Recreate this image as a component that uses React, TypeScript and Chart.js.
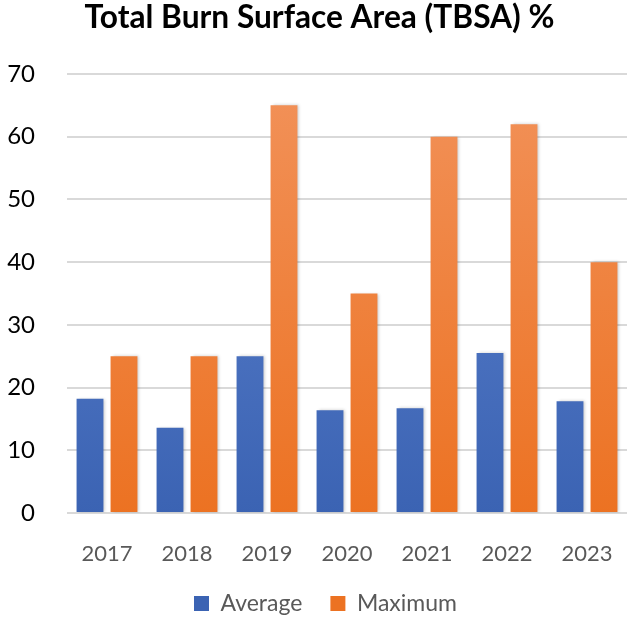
import React, { useEffect, useRef } from "react";
import { Chart, registerables } from "chart.js";

Chart.register(...registerables);

const categories = ["2017", "2018", "2019", "2020", "2021", "2022", "2023"];
const averageValues = [18.2, 13.6, 25, 16.4, 16.7, 25.5, 17.8];
const maximumValues = [25, 25, 65, 35, 60, 62, 40];
const yTicks = [0, 10, 20, 30, 40, 50, 60, 70];
const titleText = "Total Burn Surface Area (TBSA) %";

const FONT = "Lato, 'Open Sans', sans-serif";
const TITLE_WIDTH = 470;
const LEGEND_SHIFT = 10;

function gradient(ctx: any, top: string, bottom: string) {
  const chart = ctx.chart;
  const area = chart.chartArea;
  if (!area) return bottom;
  const g = chart.ctx.createLinearGradient(0, area.top, 0, area.bottom);
  g.addColorStop(0, top);
  g.addColorStop(1, bottom);
  return g;
}

const titlePlugin = {
  id: "fittedTitle",
  afterDraw(chart: any) {
    const c = chart.ctx;
    c.save();
    c.font = `bold 100px ${FONT}`;
    const w = c.measureText(titleText).width;
    const size = (100 * TITLE_WIDTH) / w;
    c.font = `bold ${size.toFixed(2)}px ${FONT}`;
    c.fillStyle = "#000000";
    c.textAlign = "center";
    c.textBaseline = "alphabetic";
    c.fillText(titleText, chart.width / 2 + 3, 28);
    c.restore();
  },
};

const legendShiftPlugin = {
  id: "legendShift",
  afterLayout(chart: any) {
    const lg = chart.legend;
    if (lg) {
      lg.left += LEGEND_SHIFT;
      lg.right += LEGEND_SHIFT;
    }
  },
};

const shadowPlugin = {
  id: "barShadow",
  beforeDatasetsDraw(chart: any) {
    const c = chart.ctx;
    c.save();
    c.shadowColor = "rgba(0,0,0,0.22)";
    c.shadowBlur = 3;
    c.shadowOffsetX = 2;
    c.shadowOffsetY = 0;
  },
  afterDatasetsDraw(chart: any) {
    chart.ctx.restore();
  },
};

export default function App() {
  const ref = useRef<HTMLCanvasElement | null>(null);
  useEffect(() => {
    if (!ref.current) return;
    const chart = new Chart(ref.current, {
      type: "bar",
      data: {
        labels: categories,
        datasets: [
          {
            label: "Average",
            data: averageValues,
            backgroundColor: (c: any) => gradient(c, "#5f84cf", "#3b63b3"),
            borderWidth: 0,
            categoryPercentage: 0.85,
            barPercentage: 0.79,
          },
          {
            label: "Maximum",
            data: maximumValues,
            backgroundColor: (c: any) => gradient(c, "#f2925a", "#ec7222"),
            borderWidth: 0,
            categoryPercentage: 0.85,
            barPercentage: 0.79,
          },
        ],
      },
      options: {
        animation: false,
        responsive: false,
        layout: { padding: { left: 4, right: 6, top: 74, bottom: -4 } },
        plugins: {
          title: { display: false },
          legend: {
            position: "bottom",
            labels: {
              color: "#595959",
              font: { family: FONT, size: 23 },
              boxWidth: 15,
              boxHeight: 15,
              padding: 28,
            },
          },
          tooltip: { enabled: false },
        },
        scales: {
          x: {
            grid: { display: false },
            border: { display: false },
            afterFit: (axis: any) => {
              axis.height = 51;
            },
            ticks: {
              color: "#595959",
              font: { family: FONT, size: 22 },
              padding: 20,
            },
          },
          y: {
            min: 0,
            max: 70,
            afterBuildTicks: (axis: any) => {
              axis.ticks = yTicks.map((v) => ({ value: v }));
            },
            afterFit: (axis: any) => {
              axis.width = 63;
            },
            grid: { color: "#d9d9d9", lineWidth: 2, drawTicks: false },
            border: { display: false },
            ticks: {
              color: "#000000",
              font: { family: FONT, size: 24 },
              padding: 32,
            },
          },
        },
      },
      plugins: [shadowPlugin, legendShiftPlugin, titlePlugin],
    } as any);
    return () => chart.destroy();
  }, []);
  return (
    <div style={{ position: "fixed", left: 0, top: 0, width: 633, height: 621, background: "#fff" }}>
      <canvas ref={ref} width={633} height={621} />
    </div>
  );
}
